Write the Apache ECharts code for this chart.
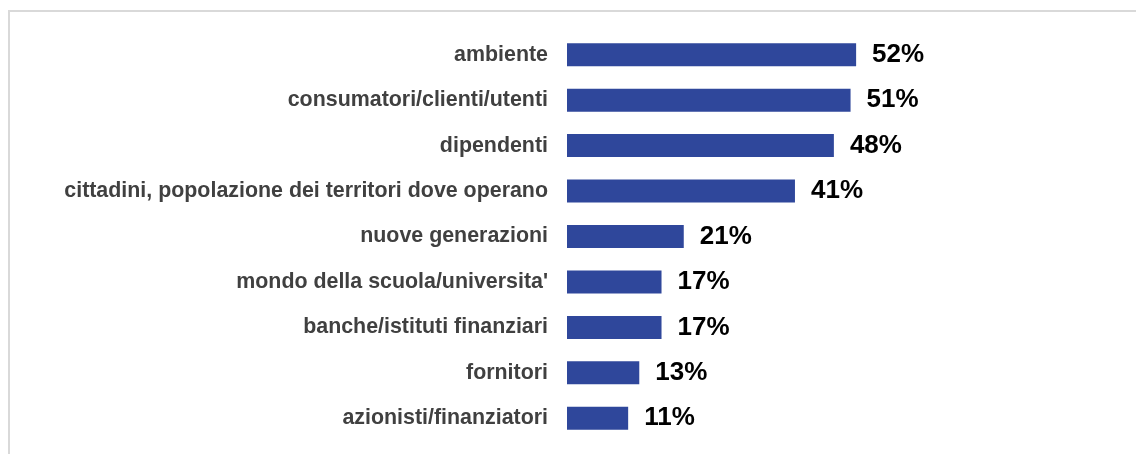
<!DOCTYPE html>
<html>
<head>
<meta charset="utf-8">
<script src="https://cdn.jsdelivr.net/npm/echarts@6/dist/echarts.min.js"></script>
<style>
html,body{margin:0;padding:0;background:#fff;}
#chart{width:1136px;height:454px;}
</style>
</head>
<body>
<div id="chart"></div>
<script>
const categories = [
  "ambiente",
  "consumatori/clienti/utenti",
  "dipendenti",
  "cittadini, popolazione dei territori dove operano",
  "nuove generazioni",
  "mondo della scuola/universita'",
  "banche/istituti finanziari",
  "fornitori",
  "azionisti/finanziatori"
];
const values = [52, 51, 48, 41, 21, 17, 17, 13, 11];

const chart = echarts.init(document.getElementById('chart'));
chart.setOption({
  animation: false,
  backgroundColor: '#ffffff',
  graphic: [{
    type: 'rect',
    shape: { x: 9, y: 11, width: 1400, height: 800 },
    style: { fill: 'none', stroke: '#d9d9d9', lineWidth: 2 },
    silent: true
  }],
  grid: { left: 567, right: 13, top: 32, bottom: 13, containLabel: false },
  xAxis: {
    type: 'value', min: 0, max: 100, show: false,
    splitLine: { show: false }
  },
  yAxis: {
    type: 'category', data: categories, inverse: true,
    axisLine: { show: false }, axisTick: { show: false },
    axisLabel: {
      margin: 19, color: '#404040', fontSize: 21.4, fontWeight: 'bold',
      fontFamily: 'Liberation Sans, Arial, sans-serif'
    }
  },
  series: [{
    type: 'bar', data: values, barWidth: 23,
    itemStyle: { color: '#2f479b' },
    label: {
      show: true, position: 'right', distance: 16,
      formatter: p => p.value + '%',
      color: '#000', fontSize: 26, fontWeight: 'bold',
      fontFamily: 'Liberation Sans, Arial, sans-serif'
    }
  }]
});
</script>
</body>
</html>
